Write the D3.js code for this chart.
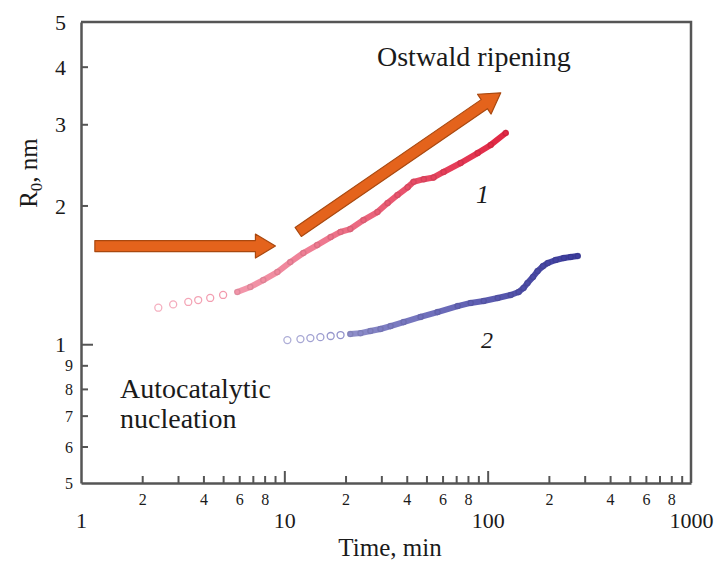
<!DOCTYPE html>
<html>
<head>
<meta charset="utf-8">
<script src="https://cdn.jsdelivr.net/npm/d3@7"></script>
<style>
body { margin: 0; background: #fff; }
svg text { font-family: "Liberation Serif", "DejaVu Serif", serif; fill: #1a1a1a; }
</style>
</head>
<body>
<div id="chart"></div>
<script>
// series 1 (red)
var time1 = [2.4, 2.84, 3.37, 3.77, 4.32, 5.0, 5.87, 6.8, 7.88, 9.24, 10.7, 12.4, 14.5, 16.9, 18.9, 21.1, 24.5, 28.7, 32.2, 36.0, 40.4, 43.2, 48.5, 54.2, 60.7, 73.6, 89.3, 103.5, 122.7];
var r1 = [1.20, 1.22, 1.235, 1.247, 1.26, 1.279, 1.298, 1.331, 1.378, 1.434, 1.507, 1.577, 1.641, 1.708, 1.752, 1.778, 1.859, 1.935, 2.024, 2.107, 2.19, 2.25, 2.28, 2.30, 2.364, 2.472, 2.598, 2.706, 2.872];

// series 2 (blue)
var time2 = [10.35, 12.0, 13.43, 15.04, 16.9, 18.9, 21.1, 23.7, 26.5, 29.7, 33.3, 38.6, 46.8, 56.7, 71.2, 82.5, 95.6, 112, 129.8, 142, 150, 157, 167, 176, 187, 197.5, 216, 237, 256, 277.5];
var r2 = [1.021, 1.026, 1.031, 1.036, 1.042, 1.047, 1.052, 1.057, 1.068, 1.079, 1.095, 1.117, 1.146, 1.174, 1.210, 1.229, 1.241, 1.260, 1.279, 1.298, 1.324, 1.357, 1.399, 1.441, 1.477, 1.500, 1.523, 1.538, 1.546, 1.553];

// annotation arrows, in data units [time, R0]
var arrowFlat = [[1.17, 1.633], [9.04, 1.633]];
var arrowRise = [[11.7, 1.752], [116, 3.51]];

// ticks
var xTicks = [1, 2, 3, 4, 5, 6, 7, 8, 9, 10, 20, 30, 40, 50, 60, 70, 80, 90, 100, 200, 300, 400, 500, 600, 700, 800, 900, 1000];
var xDecades = [1, 10, 100, 1000];
var xMinorLabels = [2, 4, 6, 8];
var yTicks = [0.5, 0.6, 0.7, 0.8, 0.9, 1, 2, 3, 4, 5];

var width = 717, height = 563;

var svg = d3.select("#chart")
    .append("svg")
    .attr("width", width)
    .attr("height", height);

var x = d3.scaleLog().domain([1, 1000]).range([81, 691]);
var y = d3.scaleLog().domain([0.5, 5]).range([483, 22]);

var axisColor = "#555";

// frame top and right
svg.append("path")
    .attr("d", "M" + x.range()[0] + "," + y.range()[1] + "H" + x.range()[1] + "V" + y.range()[0])
    .attr("fill", "none")
    .attr("stroke", axisColor)
    .attr("stroke-width", 2.5);

// x axis
function leading(v) { return Math.round(v / Math.pow(10, Math.floor(Math.log10(v) + 1e-9))); }

var gx = svg.append("g")
    .attr("transform", "translate(0," + y.range()[0] + ")")
    .call(d3.axisBottom(x).tickValues(xTicks).tickSizeInner(-7).tickSizeOuter(0)
        .tickFormat(function(d) {
            if (xDecades.indexOf(d) >= 0) return d;
            return xMinorLabels.indexOf(leading(d)) >= 0 ? leading(d) : "";
        }));
gx.select(".domain").attr("stroke", axisColor).attr("stroke-width", 2.5);
gx.selectAll(".tick line")
    .attr("stroke", axisColor).attr("stroke-width", 2)
    .attr("y2", function(d) { return (d == 10 || d == 100) ? -12 : (d == 1 || d == 1000 ? 0 : -7); });
gx.selectAll(".tick text")
    .attr("fill", "#1a1a1a")
    .attr("font-family", "Liberation Serif")
    .attr("dy", null)
    .attr("y", function(d) { return xDecades.indexOf(d) >= 0 ? 45 : 22; })
    .attr("font-size", function(d) { return xDecades.indexOf(d) >= 0 ? 22 : 16; });

// y axis
var gy = svg.append("g")
    .attr("transform", "translate(" + x.range()[0] + ",0)")
    .call(d3.axisLeft(y).tickValues(yTicks).tickSizeInner(-7).tickSizeOuter(0)
        .tickFormat(function(d) { return d >= 1 ? d : Math.round(d * 10); }));
gy.select(".domain").attr("stroke", axisColor).attr("stroke-width", 2.5);
gy.selectAll(".tick line")
    .attr("stroke", axisColor).attr("stroke-width", 2)
    .attr("x2", function(d) { return d == 1 ? 12 : (d == 5 || d == 0.5 ? 0 : 7); });
gy.selectAll(".tick text")
    .attr("fill", "#1a1a1a")
    .attr("font-family", "Liberation Serif")
    .attr("x", function(d) { return d >= 1 ? -15 : -8; })
    .attr("dy", "0.35em")
    .attr("font-size", function(d) { return d >= 1 ? 22 : 16; });

// axis titles
svg.append("text")
    .attr("x", 390)
    .attr("y", 556)
    .attr("text-anchor", "middle")
    .attr("font-size", 25)
    .text("Time, min");

var yt = svg.append("text")
    .attr("transform", "translate(37,173) rotate(-90)")
    .attr("text-anchor", "middle")
    .attr("font-size", 25);
yt.append("tspan").text("R");
yt.append("tspan").attr("dy", 5).attr("font-size", 17).text("0");
yt.append("tspan").attr("dy", -5).text(", nm");

// arrows
function arrow(pts) {
    var x0 = x(pts[0][0]), y0 = y(pts[0][1]), x1 = x(pts[1][0]), y1 = y(pts[1][1]);
    var len = Math.sqrt((x1 - x0) * (x1 - x0) + (y1 - y0) * (y1 - y0));
    var ang = Math.atan2(y1 - y0, x1 - x0) * 180 / Math.PI;
    var hl = 20, sw = 5.5, hw = 12;
    var g = svg.append("g").attr("transform", "translate(" + x0 + "," + y0 + ") rotate(" + ang + ")");
    g.append("path")
        .attr("d", "M0," + (-sw) + "L" + (len - hl) + "," + (-sw) + "L" + (len - hl) + "," + (-hw) +
            "L" + len + ",0L" + (len - hl) + "," + hw + "L" + (len - hl) + "," + sw + "L0," + sw + "Z")
        .attr("fill", "#e4631c")
        .attr("stroke", "#a9480f")
        .attr("stroke-width", 1.2)
        .attr("stroke-linejoin", "round");
}
arrow(arrowFlat);
arrow(arrowRise);

// data series
function series(ts, rs, denseFrom, color) {
    var pts = ts.map(function(t, i) { return [t, rs[i]]; });
    var g = svg.append("g");
    // dense part: a thick trail of overlapping markers
    for (var i = denseFrom; i < pts.length - 1; i++) {
        g.append("line")
            .attr("x1", x(pts[i][0])).attr("y1", y(pts[i][1]))
            .attr("x2", x(pts[i + 1][0])).attr("y2", y(pts[i + 1][1]))
            .attr("stroke", color(pts[i][0]))
            .attr("stroke-width", 6)
            .attr("stroke-linecap", "round");
    }
    g.selectAll("circle")
        .data(pts)
        .enter().append("circle")
        .attr("cx", function(d) { return x(d[0]); })
        .attr("cy", function(d) { return y(d[1]); })
        .attr("r", function(d, i) { return i < denseFrom ? 3.5 : 2.6; })
        .attr("fill", "none")
        .attr("stroke", function(d, i) { return i < denseFrom ? color(d[0]) : d3.color(color(d[0])).darker(0.4); })
        .attr("stroke-width", 1.3)
        .attr("opacity", function(d, i) { return i < denseFrom ? 1 : 0.6; });
}

var redColor = d3.scaleLog().domain([2.4, 12, 122]).range(["#f5b0c0", "#ef8096", "#e0223f"]);
var blueColor = d3.scaleLog().domain([10, 30, 280]).range(["#b0b0d8", "#7d7dc2", "#3b3b9e"]);

series(time1, r1, 6, redColor);
series(time2, r2, 6, blueColor);

// annotations
svg.append("text").attr("x", 377).attr("y", 66).attr("font-size", 28).text("Ostwald ripening");
svg.append("text").attr("x", 120).attr("y", 398).attr("font-size", 28).text("Autocatalytic");
svg.append("text").attr("x", 120).attr("y", 428).attr("font-size", 28).text("nucleation");
svg.append("text").attr("x", 476).attr("y", 203).attr("font-size", 26).attr("font-style", "italic").text("1");
svg.append("text").attr("x", 481).attr("y", 348).attr("font-size", 24).attr("font-style", "italic").text("2");
</script>
</body>
</html>
